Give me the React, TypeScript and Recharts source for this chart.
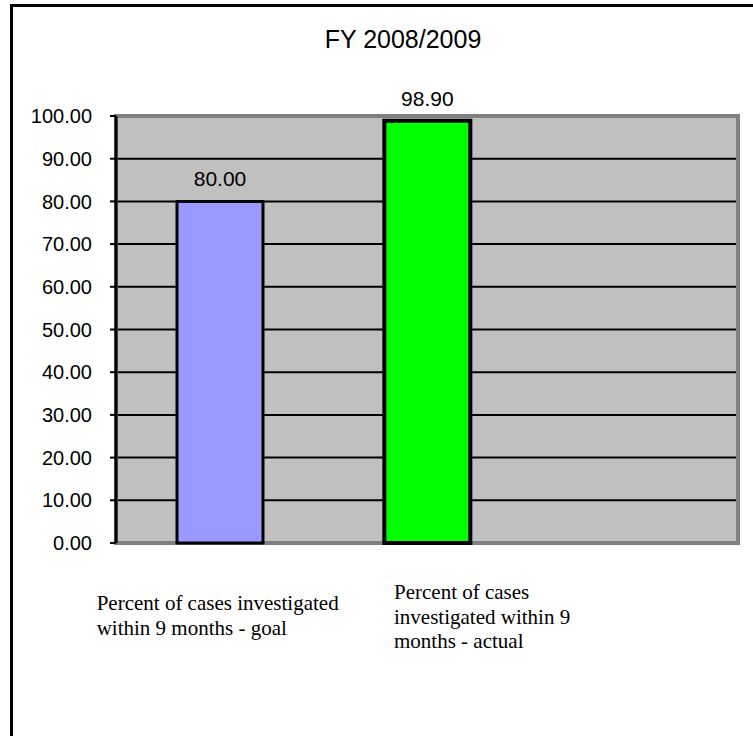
import { BarChart, Bar, XAxis, YAxis, CartesianGrid, Cell, LabelList, ReferenceArea } from 'recharts';

// categories (third slot is an empty band, as in the source sheet)
const categories = ['goal', 'actual', ''];
const categoryLines = [
  ['Percent of cases investigated', 'within 9 months - goal'],
  ['Percent of cases', 'investigated within 9', 'months - actual'],
  [],
];
const values = [80.0, 98.9, null];
const barColors = ['#9999FF', '#00FF00', '#9999FF'];
const yTicks = [0, 10, 20, 30, 40, 50, 60, 70, 80, 90, 100];

const data = categories.map((name, i) => ({ name, value: values[i] }));

const sans = '"Liberation Sans", Arial, sans-serif';
const serif = '"Liberation Serif", "Times New Roman", serif';

// label blocks are wrapped/positioned the way Excel placed them
const labelDx = [-123, -33];
const labelDy = [67, 56];

function CategoryTick(props: any) {
  const { x, y, index } = props;
  const lines = categoryLines[index] || [];
  if (!lines.length) return null;
  const left = x + labelDx[index];
  return (
    <text
      x={left}
      y={y + labelDy[index]}
      fontFamily={serif}
      style={{ fontFamily: serif }}
      fontSize={21}
      fill="#000"
      textAnchor="start"
    >
      {lines.map((l, i) => (
        <tspan key={i} x={left} dy={i === 0 ? 0 : 24.5}>
          {l}
        </tspan>
      ))}
    </text>
  );
}

export default function App() {
  return (
    <div style={{ position: 'absolute', left: 0, top: 0, width: 753, height: 736, overflow: 'hidden', background: '#fff' }}>
      {/* outer frame, runs off the right and bottom edges */}
      <div
        style={{
          position: 'absolute',
          left: 10,
          top: 4,
          width: 800,
          height: 800,
          border: '3.5px solid #000',
        }}
      />
      <BarChart
        width={753}
        height={736}
        data={data}
        margin={{ top: 116, right: 15, bottom: 0, left: 0 }}
        style={{ position: 'absolute', left: 0, top: 0 }}
      >
        <CartesianGrid vertical={false} fill="#C0C0C0" stroke="#000" strokeWidth={2} fillOpacity={1} />
        <ReferenceArea y1={0} y2={100} fill="none" stroke="#808080" strokeWidth={4} ifOverflow="visible" />
        <XAxis
          dataKey="name"
          height={193}
          axisLine={false}
          tickLine={false}
          tickSize={0}
          tickMargin={0}
          interval={0}
          tick={<CategoryTick />}
        />
        <YAxis
          width={116}
          domain={[0, 100]}
          ticks={yTicks}
          interval={0}
          tickFormatter={(v: number) => v.toFixed(2)}
          axisLine={{ stroke: '#000', strokeWidth: 3 }}
          tickLine={{ stroke: '#000', strokeWidth: 2 }}
          tickSize={6}
          tickMargin={18}
          tick={{ fill: '#000', fontSize: 20, fontFamily: sans }}
        />
        <Bar dataKey="value" barSize={86} isAnimationActive={false}>
          {data.map((d, i) => (
            <Cell key={i} fill={barColors[i]} stroke="#000" strokeWidth={i === 0 ? 3 : 4} />
          ))}
          <LabelList
            dataKey="value"
            position="top"
            offset={15}
            formatter={(v: any) => (v == null ? '' : Number(v).toFixed(2))}
            style={{ fill: '#000', fontSize: 21, fontFamily: sans }}
          />
        </Bar>
      </BarChart>
      <svg width={753} height={80} style={{ position: 'absolute', left: 0, top: 0 }}>
        <text x={403} y={48} textAnchor="middle" fontFamily={sans} fontSize={25} fill="#000">
          FY 2008/2009
        </text>
      </svg>
    </div>
  );
}
